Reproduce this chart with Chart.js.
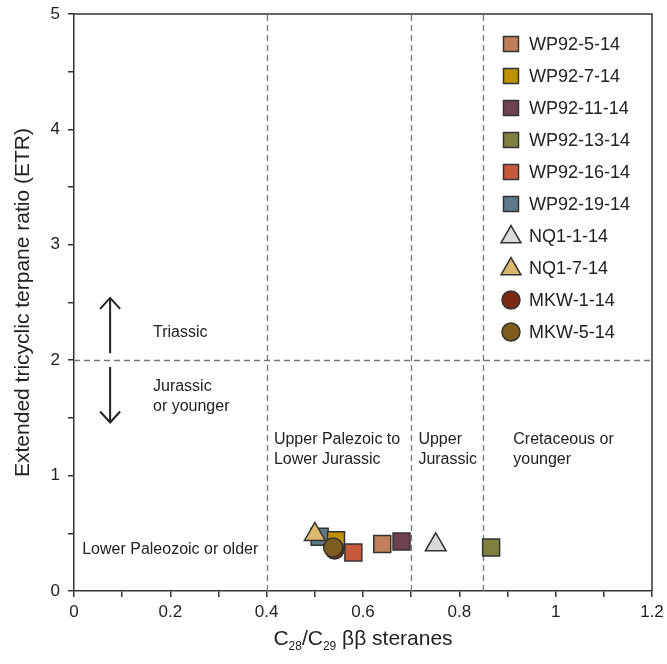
<!DOCTYPE html>
<html>
<head>
<meta charset="utf-8">
<script src="https://cdn.jsdelivr.net/npm/chart.js@4.4.1/dist/chart.umd.min.js"></script>
<style>
  html, body { margin: 0; padding: 0; background: #fff; }
</style>
</head>
<body>
<canvas id="etr" width="667" height="664"></canvas>
<script>
/* ---------- data ---------- */
const sampleNames = ["WP92-5-14","WP92-7-14","WP92-11-14","WP92-13-14","WP92-16-14","WP92-19-14","NQ1-1-14","NQ1-7-14","MKW-1-14","MKW-5-14"];
const steraneRatio = [0.640, 0.544, 0.680, 0.866, 0.580, 0.510, 0.751, 0.500, 0.541, 0.538];
const etrValues    = [0.407, 0.440, 0.429, 0.377, 0.334, 0.470, 0.400, 0.490, 0.360, 0.377];

const xTickValues = [0,0.1,0.2,0.3,0.4,0.5,0.6,0.7,0.8,0.9,1,1.1,1.2];
const xTickLabels = ["0","","0.2","","0.4","","0.6","","0.8","","1","","1.2"];
const yTickValues = [0,0.5,1,1.5,2,2.5,3,3.5,4,4.5,5];
const yTickLabels = ["0","","1","","2","","3","","4","","5"];

const ageBoundsX = [0.4, 0.7, 0.85];
const ageBoundY = 2;

/* ---------- styles ---------- */
const sampleColors = ["#c17f59","#bf9000","#6f4152","#7f7f3f","#c75a3a","#5f7a8a","#d8dbd6","#dbb86e","#7a2a10","#7c5d1e"];
const sampleShapes = ["rect","rect","rect","rect","rect","rect","triangle","triangle","circle","circle"];
const shapeRadius = { rect: 12, triangle: 12, circle: 9.5 };
const legendRadius = { rect: 10.6, triangle: 11.5, circle: 9 };
const drawOrder = [5,5,5,5,5,5,2,2,1,0];

const FONT = "'Liberation Sans', Arial, sans-serif";
const INK = "#222";
const AXIS = "#333";

// text notes, placed in data units
const notes = [
  { lines: ["Triassic"], x: 0.164, y: 2.24 },
  { lines: ["Jurassic", "or younger"], x: 0.164, y: 1.77 },
  { lines: ["Upper Palezoic to", "Lower Jurassic"], x: 0.415, y: 1.31 },
  { lines: ["Upper", "Jurassic"], x: 0.715, y: 1.31 },
  { lines: ["Cretaceous or", "younger"], x: 0.912, y: 1.31 },
  { lines: ["Lower Paleozoic or older"], x: 0.017, y: 0.355 }
];

/* ---------- datasets ---------- */
const datasets = sampleNames.map((name, i) => ({
  label: name,
  data: [{ x: steraneRatio[i], y: etrValues[i] }],
  pointStyle: sampleShapes[i],
  pointRadius: shapeRadius[sampleShapes[i]],
  backgroundColor: sampleColors[i],
  borderColor: AXIS,
  borderWidth: 1.5,
  order: drawOrder[i]
}));

/* ---------- plugins ---------- */
const frameAndNotes = {
  id: "frameAndNotes",
  beforeDatasetsDraw(chart) {
    const { ctx, chartArea: a, scales: { x, y } } = chart;
    ctx.save();

    // dashed boundaries
    ctx.strokeStyle = "#777";
    ctx.lineWidth = 1.3;
    ctx.setLineDash([6, 4]);
    ageBoundsX.forEach(v => {
      const px = Math.round(x.getPixelForValue(v)) + 0.5;
      ctx.beginPath();
      ctx.moveTo(px, a.bottom);
      ctx.lineTo(px, a.top);
      ctx.stroke();
    });
    const py = Math.round(y.getPixelForValue(ageBoundY)) + 0.5;
    ctx.beginPath();
    ctx.moveTo(a.left, py);
    ctx.lineTo(a.right, py);
    ctx.stroke();
    ctx.setLineDash([]);

    // top and right frame
    ctx.strokeStyle = AXIS;
    ctx.lineWidth = 1.5;
    ctx.beginPath();
    ctx.moveTo(a.left, a.top);
    ctx.lineTo(a.right, a.top);
    ctx.lineTo(a.right, a.bottom);
    ctx.stroke();

    // notes
    ctx.fillStyle = INK;
    ctx.font = "16px " + FONT;
    ctx.textBaseline = "middle";
    ctx.textAlign = "left";
    notes.forEach(n => {
      const nx = x.getPixelForValue(n.x);
      const ny = y.getPixelForValue(n.y);
      n.lines.forEach((t, k) => ctx.fillText(t, nx, ny + k * 20));
    });

    // arrows
    const ax = x.getPixelForValue(0.075);
    const arrow = (from, to) => {
      const p1 = y.getPixelForValue(from), p2 = y.getPixelForValue(to);
      const dir = p2 < p1 ? 1 : -1;
      ctx.beginPath();
      ctx.moveTo(ax, p1);
      ctx.lineTo(ax, p2);
      ctx.moveTo(ax - 10, p2 + dir * 11);
      ctx.lineTo(ax, p2);
      ctx.lineTo(ax + 10, p2 + dir * 11);
      ctx.stroke();
    };
    ctx.strokeStyle = INK;
    ctx.lineWidth = 2;
    arrow(2.06, 2.54);
    arrow(1.94, 1.46);

    ctx.restore();
  },
  afterDraw(chart) {
    const { ctx, chartArea: a } = chart;
    ctx.save();

    // legend
    const lx = a.right - 141, ly = a.top + 30, step = 32;
    ctx.font = "18px " + FONT;
    ctx.textBaseline = "middle";
    ctx.textAlign = "left";
    sampleNames.forEach((name, i) => {
      const cy = ly + i * step;
      ctx.fillStyle = sampleColors[i];
      ctx.strokeStyle = AXIS;
      ctx.lineWidth = 1.5;
      Chart.helpers.drawPoint(ctx, {
        pointStyle: sampleShapes[i],
        radius: legendRadius[sampleShapes[i]],
        rotation: 0,
        borderWidth: 1.5
      }, lx, cy + (sampleShapes[i] === "triangle" ? 1 : 0));
      ctx.fillStyle = INK;
      ctx.fillText(name, lx + 18, cy + 1);
    });

    // y title
    ctx.font = "21px " + FONT;
    ctx.fillStyle = INK;
    ctx.save();
    ctx.translate(23, (a.top + a.bottom) / 2);
    ctx.rotate(-Math.PI / 2);
    ctx.textAlign = "center";
    ctx.fillText("Extended tricyclic terpane ratio (ETR)", 0, 0);
    ctx.restore();

    // x title with subscripts
    const parts = [["C", 0], ["28", 1], ["/C", 0], ["29", 1], [" \u03b2\u03b2 steranes", 0]];
    const big = "21px " + FONT, small = "12px " + FONT;
    let w = 0;
    parts.forEach(p => { ctx.font = p[1] ? small : big; w += ctx.measureText(p[0]).width; });
    let tx = (a.left + a.right) / 2 - w / 2;
    const base = 645;
    ctx.textAlign = "left";
    ctx.textBaseline = "alphabetic";
    parts.forEach(p => {
      ctx.font = p[1] ? small : big;
      ctx.fillText(p[0], tx, base + (p[1] ? 5 : 0));
      tx += ctx.measureText(p[0]).width;
    });

    ctx.restore();
  }
};

/* ---------- chart ---------- */
new Chart(document.getElementById("etr"), {
  type: "scatter",
  data: { datasets },
  options: {
    responsive: false,
    animation: false,
    events: [],
    layout: { padding: { top: 14, right: 15, left: 0, bottom: 0 } },
    plugins: { legend: { display: false }, tooltip: { enabled: false } },
    scales: {
      x: {
        type: "linear",
        min: 0, max: 1.2,
        afterBuildTicks: s => { s.ticks = xTickValues.map(v => ({ value: v })); },
        afterFit: s => { s.height = 73; s.paddingLeft = 0; s.paddingRight = 0; },
        ticks: {
          autoSkip: false, maxRotation: 0, padding: 5,
          color: INK, font: { family: FONT, size: 17 },
          callback: (v, i) => xTickLabels[i]
        },
        grid: { drawOnChartArea: false, drawTicks: true, tickLength: 6, color: AXIS, lineWidth: 1.5 },
        border: { display: true, color: AXIS, width: 1.5 }
      },
      y: {
        type: "linear",
        min: 0, max: 5,
        afterBuildTicks: s => { s.ticks = yTickValues.map(v => ({ value: v })); },
        afterFit: s => { s.width = 74; s.paddingTop = 0; s.paddingBottom = 0; },
        ticks: {
          autoSkip: false, padding: 8,
          color: INK, font: { family: FONT, size: 17 },
          callback: (v, i) => yTickLabels[i]
        },
        grid: { drawOnChartArea: false, drawTicks: true, tickLength: 6, color: AXIS, lineWidth: 1.5 },
        border: { display: true, color: AXIS, width: 1.5 }
      }
    }
  },
  plugins: [frameAndNotes]
});
</script>
</body>
</html>
